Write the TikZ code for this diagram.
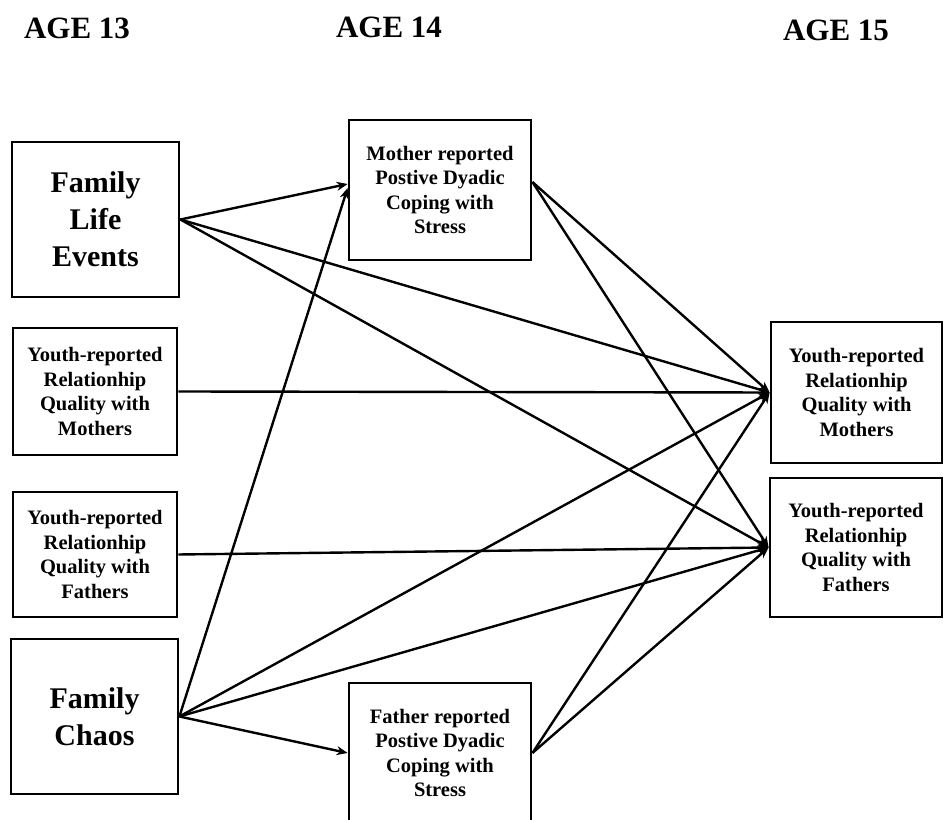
\documentclass[tikz,border=0pt]{standalone}
\usepackage{fontspec}
\setmainfont{Liberation Serif}
\usetikzlibrary{arrows.meta}
\begin{document}
\begin{tikzpicture}[x=1pt,y=1pt,
  box/.style={draw, line width=2.8pt, inner sep=0pt, align=center,
    font=\bfseries\fontsize{20.5}{24.5}\selectfont},
  bigbox/.style={box, font=\bfseries\fontsize{30}{37}\selectfont},
  agelabel/.style={anchor=base, font=\bfseries\fontsize{31}{36}\selectfont},
  link/.style={line width=2.4pt, -{Stealth[length=11pt,width=9pt]}}
]
\useasboundingbox (0,0) rectangle (944,819);
\clip (0,0) rectangle (944,819);

% wave headings
\node[agelabel] (a13) at (77,780) {AGE 13};
\node[agelabel] (a14) at (389,781) {AGE 14};
\node[agelabel] (a15) at (836,778) {AGE 15};

% age 13 predictors
\node[bigbox, minimum width=167pt, minimum height=155pt] (fle) at (95.5,599.5) {Family\\Life\\Events};
\node[box, minimum width=164pt, minimum height=127pt] (ym) at (95,427.5) {Youth-reported\\Relationhip\\Quality with\\Mothers};
\node[box, minimum width=164pt, minimum height=125pt] (yf) at (95,264.5) {Youth-reported\\Relationhip\\Quality with\\Fathers};
\node[bigbox, minimum width=167pt, minimum height=155pt] (fc) at (94.5,102.5) {Family\\Chaos};

% age 14 mediators
\node[box, minimum width=182pt, minimum height=140pt] (mom) at (440,629) {Mother reported\\Postive Dyadic\\Coping with\\Stress};
\node[box, minimum width=182pt, minimum height=140pt] (dad) at (440,66) {Father reported\\Postive Dyadic\\Coping with\\Stress};

% age 15 outcomes
\node[box, minimum width=171pt, minimum height=141pt] (rym) at (856.5,426.5) {Youth-reported\\Relationhip\\Quality with\\Mothers};
\node[box, minimum width=172pt, minimum height=139pt] (ryf) at (856,271.5) {Youth-reported\\Relationhip\\Quality with\\Fathers};

% paths
\draw[link] (fle.east) -- ([yshift=6pt]mom.west);
\draw[link] (fle.east) -- (rym.west);
\draw[link] (fle.east) -- (ryf.west);
\draw[link] (ym.east) -- (rym.west);
\draw[link] (yf.east) -- (ryf.west);
\draw[link] (fc.east) -- ([yshift=2pt]mom.west);
\draw[link] (fc.east) -- (dad.west);
\draw[link] (fc.east) -- (rym.west);
\draw[link] (fc.east) -- (ryf.west);
\draw[link] ([yshift=8pt]mom.east) -- (rym.west);
\draw[link] ([yshift=8pt]mom.east) -- (ryf.west);
\draw[link] (dad.east) -- (rym.west);
\draw[link] (dad.east) -- (ryf.west);
\end{tikzpicture}
\end{document}
